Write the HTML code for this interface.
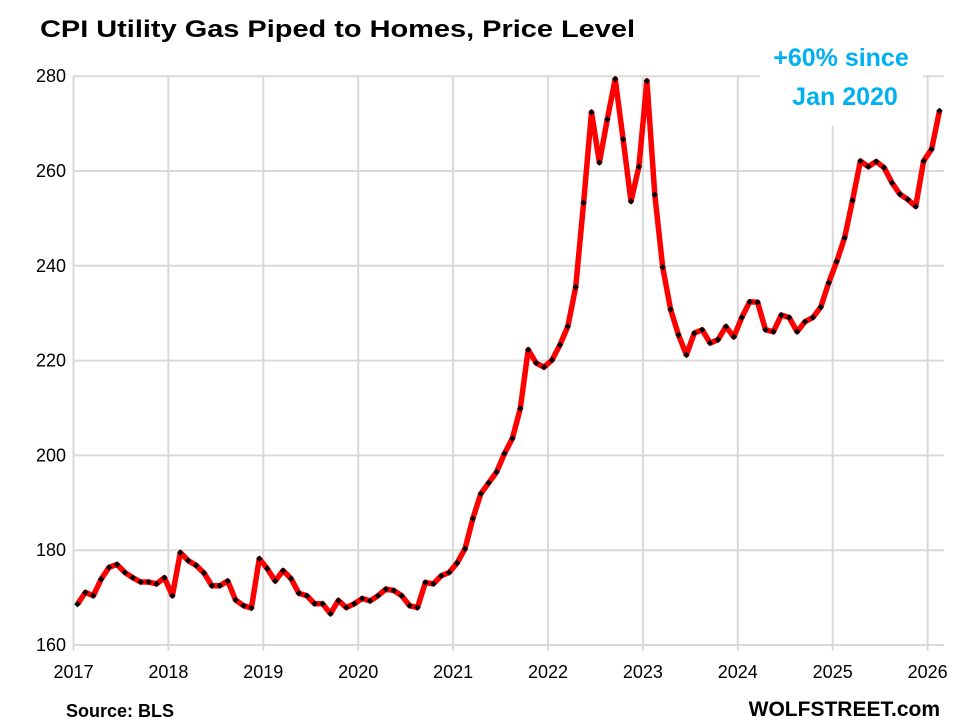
<!DOCTYPE html>
<html><head><meta charset="utf-8"><style>body{margin:0;background:#fff}svg{display:block}</style></head>
<body>
<svg id="s" width="958" height="725" xmlns="http://www.w3.org/2000/svg" font-family="Liberation Sans, sans-serif">
<rect width="958" height="725" fill="#fff"/>
<g id="grid" stroke="#d9d9d9" stroke-width="2"></g>
<g id="yl" font-size="18" fill="#000" text-anchor="end"></g>
<g id="xl" font-size="18" fill="#000" text-anchor="middle"></g>
<polyline id="ln" fill="none" stroke="#ff0000" stroke-width="5.5" stroke-linejoin="round"/>
<g id="mk" fill="#000"></g>
<rect x="760" y="38" width="163" height="88" fill="#fff"/>
<text x="841" y="66" font-size="25" font-weight="bold" fill="#00b0f0" text-anchor="middle">+60% since</text>
<text x="845" y="105" font-size="25" font-weight="bold" fill="#00b0f0" text-anchor="middle">Jan 2020</text>
<text x="40" y="37" font-size="24" font-weight="bold" textLength="595" lengthAdjust="spacingAndGlyphs">CPI Utility Gas Piped to Homes, Price Level</text>
<text x="66" y="717" font-size="18" font-weight="bold">Source: BLS</text>
<text x="940" y="716" font-size="21" font-weight="bold" text-anchor="end">WOLFSTREET.com</text>
</svg>
<script>
var d=[168.6,171.1,170.4,173.9,176.4,177.0,175.3,174.2,173.3,173.3,172.9,174.2,
170.4,179.5,177.8,176.8,175.2,172.5,172.5,173.5,169.5,168.3,167.8,178.2,
176.1,173.5,175.7,174.0,170.9,170.4,168.7,168.7,166.6,169.4,167.9,168.7,
169.8,169.3,170.4,171.8,171.5,170.4,168.3,167.9,173.2,172.9,174.6,175.3,
177.3,180.3,186.7,191.9,194.2,196.5,200.4,203.6,209.9,222.3,219.5,218.6,
220.1,223.3,227.2,235.5,253.3,272.4,261.8,270.9,279.4,266.7,253.6,260.9,
279.0,255.0,239.7,230.8,225.4,221.2,225.8,226.5,223.7,224.4,227.2,225.0,
229.1,232.4,232.3,226.5,226.1,229.6,229.1,226.1,228.2,229.1,231.3,236.4,
240.9,245.9,253.8,262.1,260.9,262.0,260.7,257.5,255.1,254.0,252.5,262.1,
264.6,272.7];
var ns="http://www.w3.org/2000/svg";
function X(i){return 73.5+(i+0.5)*94.9/12}
function Y(v){return 645-(v-160)*4.74}
var g=document.getElementById('grid'),yl=document.getElementById('yl'),xl=document.getElementById('xl');
function el(p,t,a,txt){var e=document.createElementNS(ns,t);for(var k in a)e.setAttribute(k,a[k]);if(txt)e.textContent=txt;p.appendChild(e);}
for(var v=160;v<=280;v+=20){var y=Y(v);el(g,'line',{x1:73,x2:944,y1:y,y2:y});el(yl,'text',{x:66,y:y+6},String(v));}
for(var k=0;k<=9;k++){var x=73.5+k*94.9;el(g,'line',{x1:x,x2:x,y1:Y(280),y2:651});el(xl,'text',{x:x,y:678},String(2017+k));}
var pts=d.map(function(v,i){return X(i).toFixed(1)+','+Y(v).toFixed(1)});
document.getElementById('ln').setAttribute('points',pts.join(' '));
var mk=document.getElementById('mk');
d.forEach(function(v,i){var x=X(i),y=Y(v),r=3.2;el(mk,'polygon',{points:(x-r)+','+y+' '+x+','+(y-r)+' '+(x+r)+','+y+' '+x+','+(y+r)});});
</script>
</body></html>
